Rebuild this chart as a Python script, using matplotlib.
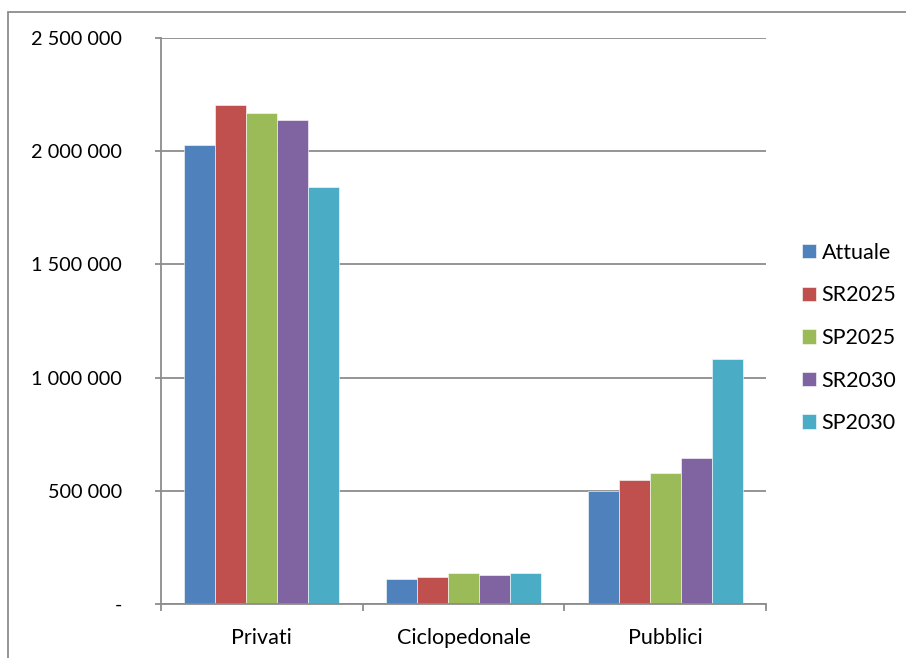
import matplotlib.pyplot as plt
import numpy as np
from matplotlib.patches import Rectangle
from matplotlib.ticker import FuncFormatter, FixedLocator, NullFormatter

categories = ["Privati", "Ciclopedonale", "Pubblici"]
series_names = ["Attuale", "SR2025", "SP2025", "SR2030", "SP2030"]
attuale = [2027000, 110000, 500000]
sr2025 = [2204000, 119000, 548000]
sp2025 = [2169000, 137000, 577000]
sr2030 = [2138000, 129000, 646000]
sp2030 = [1842000, 139000, 1081000]
colors = ["#4F81BD", "#C0504D", "#9BBB59", "#8064A2", "#4BACC6"]

plt.rcParams['font.family'] = ['Lato', 'DejaVu Sans']

fig = plt.figure(figsize=(9.06, 6.58), dpi=100)
W, H = 906, 658
ax = fig.add_axes([161 / W, 1 - 604 / H, (766 - 161) / W, (604 - 38) / H])

# outer chart border (cut off at right and bottom like the source)
fig.patches.append(Rectangle((8 / W, -0.1), 1.2, 1 - 12 / H + 0.1,
                             transform=fig.transFigure, fill=False,
                             edgecolor="#8c8c8c", linewidth=1.3))

x = np.arange(len(categories))
bw = 1 / 6.5
data = [attuale, sr2025, sp2025, sr2030, sp2030]
for i, (vals, name, c) in enumerate(zip(data, series_names, colors)):
    ax.bar(x + (i - 2) * bw, vals, width=bw, color=c, label=name,
           edgecolor="white", linewidth=0.4)

ax.set_xlim(-0.5, 2.5)
ax.set_ylim(0, 2500000)
ax.set_yticks(np.arange(0, 2500001, 500000))


def fmt(v, pos):
    if v == 0:
        return "-"
    return f"{int(v):,}".replace(",", " ")


ax.yaxis.set_major_formatter(FuncFormatter(fmt))
ax.grid(axis="y", color="#8c8c8c", linewidth=1.3)
ax.set_axisbelow(True)

ax.set_xticks(x)
ax.set_xticklabels(categories)
ax.tick_params(axis="x", which="major", length=0, pad=17, labelsize=15.5)
ax.xaxis.set_minor_locator(FixedLocator([-0.5, 0.5, 1.5, 2.5]))
ax.xaxis.set_minor_formatter(NullFormatter())
ax.tick_params(axis="x", which="minor", length=5, color="#8c8c8c", width=1.3)
ax.tick_params(axis="y", length=4.3, color="#8c8c8c", width=1.3, pad=24,
               labelsize=14.3)

for s in ["top", "right"]:
    ax.spines[s].set_visible(False)
for s in ["left", "bottom"]:
    ax.spines[s].set_color("#8c8c8c")
    ax.spines[s].set_linewidth(1.3)

ax.legend(loc="center left", bbox_to_anchor=(783 / W, 1 - 338 / H),
          bbox_transform=fig.transFigure, frameon=False, fontsize=15.5,
          handlelength=0.65, handleheight=0.65, handletextpad=0.25,
          labelspacing=1.05)

fig.savefig("out.png", dpi=100)
